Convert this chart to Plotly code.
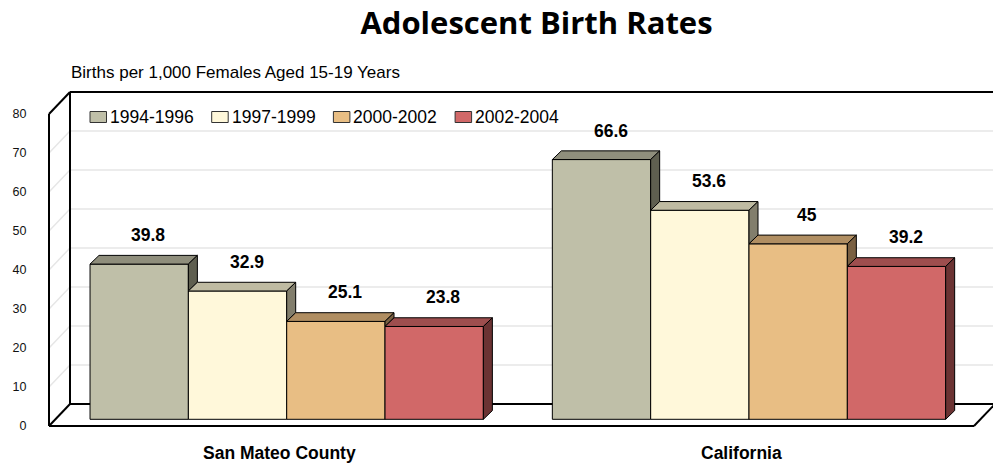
import plotly.graph_objects as go

# ---------------- data ----------------
categories = ["San Mateo County", "California"]
periods = ["1994-1996", "1997-1999", "2000-2002", "2002-2004"]
rate_1994_1996 = [39.8, 66.6]
rate_1997_1999 = [32.9, 53.6]
rate_2000_2002 = [25.1, 45.0]
rate_2002_2004 = [23.8, 39.2]
y_ticks = [0, 10, 20, 30, 40, 50, 60, 70, 80]

series = [rate_1994_1996, rate_1997_1999, rate_2000_2002, rate_2002_2004]

# ---------------- styling / geometry ----------------
face = ["#BFBFA8", "#FFF8DA", "#E8BE84", "#D16868"]
top = ["#8F8E7C", "#BFBBA2", "#B08E62", "#9E4E4E"]
side = ["#5F5F50", "#827E6C", "#7A6042", "#6B3333"]

W, H = 993, 463
PXU = 3.9            # pixels per value unit
BASE = 419.3         # pixel row of value 0 in the bars' front plane
def yv(p):           # pixel row -> value coordinate
    return (BASE - p) / PXU

group_x = [286.7, 749.0]     # group centers (x axis is in pixel units)
BW = 98.33                   # bar width
DX, DY = 9.0, 8.7 / PXU      # bar depth offset
y_front0 = yv(426)           # floor front edge
y_back0 = yv(404)            # floor back edge
XL_F, XL_B = 49, 70          # left wall front/back x
XR_F, XR_B = 974, 995        # floor right front/back x
WALL_TOP = 80

fig = go.Figure()

# front faces as bars
for i, (name, vals) in enumerate(zip(periods, series)):
    fig.add_trace(go.Bar(
        x=group_x, y=vals, name=name, width=BW, offset=(i - 2) * BW,
        marker=dict(color=face[i], line=dict(color="black", width=1)),
        showlegend=False, hoverinfo="skip"))

# 3D top and side faces, computed from the values
for g, gx in enumerate(group_x):
    for i in range(4):
        v = series[i][g]
        xl = gx + (i - 2) * BW
        xr = xl + BW
        # top face
        fig.add_trace(go.Scatter(
            x=[xl, xr, xr + DX, xl + DX, xl], y=[v, v, v + DY, v + DY, v],
            fill="toself", fillcolor=top[i], mode="lines",
            line=dict(color="black", width=1), showlegend=False, hoverinfo="skip"))
        # visible part of side face
        lower = series[i + 1][g] if i < 3 else 0
        if v > lower:
            fig.add_trace(go.Scatter(
                x=[xr, xr + DX, xr + DX, xr, xr], y=[lower, lower + DY, v + DY, v, lower],
                fill="toself", fillcolor=side[i], mode="lines",
                line=dict(color="black", width=1), showlegend=False, hoverinfo="skip"))

shapes = []
# back wall fill
shapes.append(dict(type="path", layer="below",
                   path=f"M{XL_B},{y_back0} L{XR_B},{y_back0} L{XR_B},{y_back0+WALL_TOP} L{XL_B},{y_back0+WALL_TOP} Z",
                   fillcolor="white", line=dict(width=0)))
# gridlines (back wall + left wall)
for t in y_ticks[1:-1]:
    shapes.append(dict(type="line", layer="below", x0=XL_B, x1=XR_B, y0=y_back0 + t, y1=y_back0 + t,
                       line=dict(color="#E6E6E6", width=1.5)))
    shapes.append(dict(type="line", layer="below", x0=XL_F, x1=XL_B, y0=y_front0 + t, y1=y_back0 + t,
                       line=dict(color="#E6E6E6", width=1.5)))
frame = [
    (XL_B, y_back0, XR_B, y_back0),
    (XL_B, y_back0, XL_B, y_back0 + WALL_TOP),
    (XL_B, y_back0 + WALL_TOP, XR_B, y_back0 + WALL_TOP),
    (XL_F, y_front0, XL_F, y_front0 + WALL_TOP),
    (XL_F, y_front0 + WALL_TOP, XL_B, y_back0 + WALL_TOP),
    (XL_F, y_front0, XL_B, y_back0),
    (XL_F, y_front0, XR_F, y_front0),
    (XR_F, y_front0, XR_B, y_back0),
]
for x0, y0, x1, y1 in frame:
    shapes.append(dict(type="line", layer="below", x0=x0, y0=y0, x1=x1, y1=y1,
                       line=dict(color="black", width=2)))

# legend (manual)
annotations = []
leg_x0, leg_step, leg_y = 90, 121.7, yv(117)
for i, name in enumerate(periods):
    sx = leg_x0 + i * leg_step
    shapes.append(dict(type="rect", x0=sx, x1=sx + 16.5, y0=yv(122.5), y1=yv(111.5),
                       fillcolor=face[i], line=dict(color="#333333", width=1)))
    annotations.append(dict(x=sx + 18, y=leg_y, text=name, showarrow=False, xanchor="left",
                            yanchor="middle", font=dict(family="Liberation Sans", size=17.5, color="black")))

# value labels
for g, gx in enumerate(group_x):
    for i in range(4):
        v = series[i][g]
        cx = gx + (i - 1.5) * BW
        annotations.append(dict(x=cx, y=v, text=f"<b>{v:g}</b>", showarrow=False, xanchor="center",
                                yanchor="bottom", xshift=9, yshift=17,
                                font=dict(family="Liberation Sans", size=17.5, color="black")))

# category labels
for gx, cat in zip(group_x, categories):
    annotations.append(dict(x=gx - 7.5, y=yv(453), text=f"<b>{cat}</b>", showarrow=False,
                            xanchor="center", yanchor="middle",
                            font=dict(family="Liberation Sans", size=17.5, color="black")))

# subtitle
annotations.append(dict(x=69, y=yv(72), text="Births per 1,000 Females Aged 15-19 Years", showarrow=False,
                        xanchor="left", yanchor="middle",
                        font=dict(family="Liberation Sans", size=17, color="black")))

fig.update_layout(
    template="none",
    width=W, height=H,
    margin=dict(l=40, r=0, t=0, b=0),
    paper_bgcolor="white", plot_bgcolor="white",
    barmode="overlay",
    title=dict(text="<b>Adolescent Birth Rates</b>", x=536.5 / W, xanchor="center",
               y=1 - 23 / H, yanchor="middle", yref="container",
               font=dict(family="Open Sans", size=31, color="black")),
    xaxis=dict(range=[40, W], visible=False, fixedrange=True),
    yaxis=dict(range=[yv(H), yv(0)], visible=False, fixedrange=True),
    yaxis2=dict(overlaying="y", side="left", anchor="x",
                range=[(426 - H) / PXU, 426 / PXU],
                tickmode="array", tickvals=y_ticks, ticktext=[str(t) for t in y_ticks],
                ticks="outside", ticklen=10, tickcolor="rgba(0,0,0,0)",
                showgrid=False, zeroline=False, showline=False, fixedrange=True,
                tickfont=dict(family="Liberation Sans", size=12.5, color="#111111")),
    shapes=shapes,
    annotations=annotations,
    showlegend=False,
)
# attach an invisible trace to yaxis2 so the axis renders
fig.add_trace(go.Scatter(x=[None], y=[None], yaxis="y2", showlegend=False, hoverinfo="skip"))

fig.write_html("out.html", config={"displayModeBar": False},
               post_script="document.body.style.margin='0';document.body.style.overflow='hidden';")
